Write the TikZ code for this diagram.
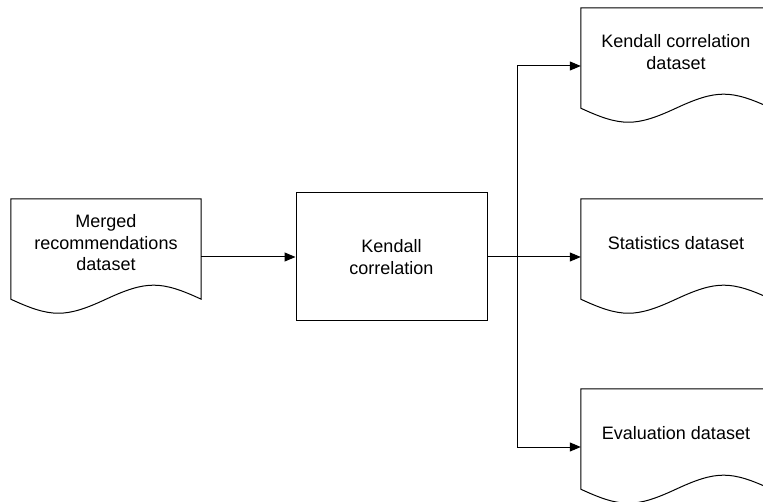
\documentclass[tikz,border=0pt]{standalone}
\usepackage{fontspec}
\setmainfont{Liberation Sans}
\usetikzlibrary{arrows.meta}

\tikzset{
  docarea/.style={minimum width=190pt, minimum height=116pt, inner sep=0pt, draw=none},
  procbox/.style={draw, line width=1pt, minimum width=191pt, minimum height=128pt, inner sep=0pt},
  lbl/.style={align=center, inner sep=0pt, font=\fontsize{18}{21.5}\selectfont},
  flow/.style={line width=1pt, -{Triangle[length=11pt,width=9pt]}},
  plainline/.style={line width=1pt},
}

% document symbol with a wavy bottom, drawn around a docarea node
\newcommand\wavydoc[1]{%
  \draw[line width=1pt]
    (#1.north west) -- (#1.north east) -- ([yshift=16pt]#1.south east)
    .. controls ([xshift=-40.3pt,yshift=34.7pt]#1.south east)
           and ([xshift=40.3pt,yshift=34.7pt]#1.south) .. ([yshift=16pt]#1.south)
    .. controls ([xshift=-40.3pt,yshift=-2.7pt]#1.south)
           and ([xshift=40.3pt,yshift=-2.7pt]#1.south west) .. ([yshift=16pt]#1.south west)
    -- cycle;}

\begin{document}
\begin{tikzpicture}[x=1pt, y=-1pt]
  \clip (0,0) rectangle (763,502);

  % input data
  \node[docarea] (merged) at (106,257) {};
  \wavydoc{merged}
  \node[lbl] (mergedText) at ([yshift=14pt]merged.center) {Merged\\recommendations\\dataset};

  % process
  \node[procbox] (kendall) at (391.5,257) {};
  \node[lbl] (kendallText) at (kendall.center) {Kendall\\correlation};

  % outputs
  \node[docarea] (kcorr) at (676,66) {};
  \wavydoc{kcorr}
  \node[lbl] (kcorrText) at ([yshift=14pt]kcorr.center) {Kendall correlation\\dataset};

  \node[docarea] (stats) at (676,257) {};
  \wavydoc{stats}
  \node[lbl] (statsText) at ([yshift=14pt]stats.center) {Statistics dataset};

  \node[docarea] (evalds) at (676,447) {};
  \wavydoc{evalds}
  \node[lbl] (evalText) at ([yshift=14pt]evalds.center) {Evaluation dataset};

  % connectors
  \coordinate (split) at (517,257);
  \draw[flow] (merged.east) -- (kendall.west);
  \draw[plainline] (kendall.east) -- (split);
  \draw[flow] (split) -- (stats.west);
  \draw[flow] (split) |- (kcorr.west);
  \draw[flow] (split) |- (evalds.west);
\end{tikzpicture}
\end{document}
